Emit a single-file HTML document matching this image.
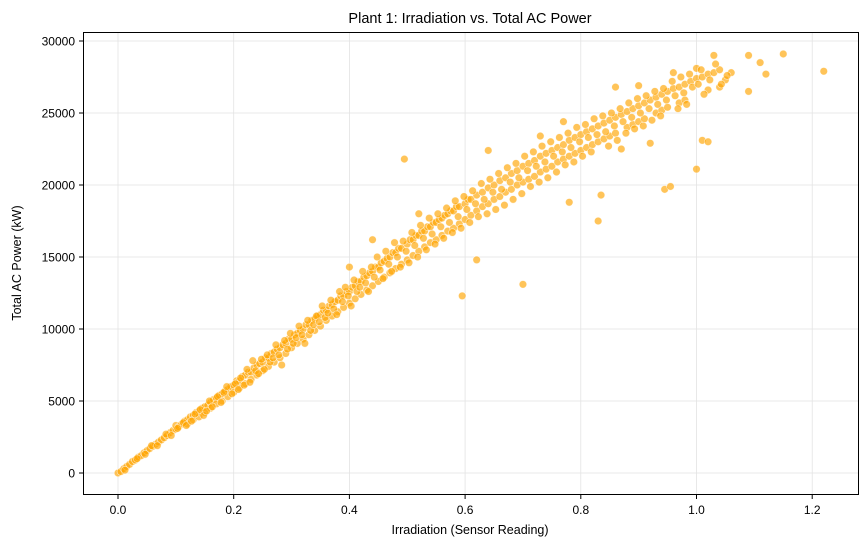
<!DOCTYPE html>
<html><head><meta charset="utf-8"><style>
body{margin:0;background:#fff;}
svg text{font-family:"Liberation Sans","DejaVu Sans",sans-serif;fill:#000;}
</style></head><body>
<svg id="chart" width="868" height="547" xmlns="http://www.w3.org/2000/svg">
<rect width="868" height="547" fill="#fff"/>
<text x="470" y="23" font-size="14.5" text-anchor="middle">Plant 1: Irradiation vs. Total AC Power</text>
<g id="grid"></g>
<g id="points"></g>
<rect x="83.5" y="32.5" width="775" height="462" fill="none" stroke="#000" stroke-width="1"/>
<g id="axes"></g>
<text x="470" y="534" font-size="12.5" text-anchor="middle">Irradiation (Sensor Reading)</text>
<text transform="translate(21,263) rotate(-90)" font-size="12.5" text-anchor="middle">Total AC Power (kW)</text>
</svg>
<script>
const xTicks=[0,0.2,0.4,0.6,0.8,1.0,1.2];
const xTickLabels=["0.0","0.2","0.4","0.6","0.8","1.0","1.2"];
const yTicks=[0,5000,10000,15000,20000,25000,30000];
const yTickLabels=["0","5000","10000","15000","20000","25000","30000"];
const irradiationA=[0,0.005,0.01,0.015,0.02,0.025,0.03,0.035,0.04,0.045,0.05,0.055,0.06,0.065,0.07,0.075,0.08,0.085,0.09,0.095,0.10,0.10,0.105,0.11,0.115,0.12,0.12,0.125,0.13,0.13,0.135,0.14,0.14,0.145,0.15,0.15,0.155,0.16,0.16,0.165,0.17,0.17,0.175,0.18,0.18,0.185,0.19,0.19,0.195,0.20,0.20,0.205,0.21,0.21,0.215,0.22,0.22,0.225,0.23,0.23,0.235,0.24,0.24,0.245,0.25,0.25,0.255,0.26,0.26,0.265,0.27,0.27,0.275,0.28,0.28,0.285,0.29,0.29,0.295,0.30,0.30,0.305,0.31,0.31,0.315,0.32,0.32,0.325,0.33,0.33,0.335,0.34,0.34,0.345,0.35,0.35,0.355,0.36,0.36,0.365,0.37,0.37,0.375,0.38,0.38,0.385,0.39,0.39,0.395,0.40,0.40,0.40,0.405,0.41,0.41,0.415,0.42,0.42,0.425,0.43,0.43,0.435,0.44,0.44,0.44,0.445,0.45,0.45,0.455,0.46,0.46,0.465,0.47,0.47,0.475,0.48,0.48,0.485,0.49,0.49,0.495,0.50,0.50,0.505,0.51,0.51,0.515,0.52,0.52,0.52,0.525,0.53,0.53,0.535,0.54,0.54,0.545,0.55,0.55,0.555,0.56,0.56,0.565,0.57,0.57,0.575,0.58,0.58,0.585,0.59,0.59,0.595,0.60,0.60,0.605,0.61,0.61,0.62,0.62,0.62,0.63,0.63,0.64,0.64,0.64,0.65,0.65,0.66,0.66,0.67,0.67,0.68,0.68,0.69,0.69,0.70,0.70,0.70,0.71,0.71,0.72,0.72,0.73,0.73,0.73,0.74,0.74,0.75,0.75,0.76,0.76,0.77,0.77,0.77,0.78,0.78,0.78,0.79,0.79,0.80,0.80,0.81,0.81,0.82,0.82,0.83,0.83,0.83,0.835,0.84,0.84,0.85,0.85,0.86,0.86,0.86,0.87,0.87,0.88,0.88,0.89,0.89,0.90,0.90,0.90,0.91,0.91,0.92,0.92,0.93,0.93,0.94,0.94,0.945,0.955,0.95,0.95,0.96,0.96,0.97,0.97,0.98,0.98,0.99,1.00,1.00,1.00,1.01,1.01,1.02,1.02,1.02,1.03,1.03,1.04,1.04,1.05,1.06,1.09,1.09,1.11,1.12,1.15,1.22];
const acPowerA=[0,100,300,450,600,800,900,1100,1200,1400,1550,1700,1850,2000,2150,2300,2450,2600,2800,2950,3050,3300,3200,3400,3600,3700,3400,3900,4000,3700,4200,4300,3900,4500,4600,4200,4700,4900,4500,5100,5200,4800,5400,5500,5000,5700,5800,5300,6000,6100,5600,6400,6400,5900,6700,6800,6200,7000,7000,6500,7300,7500,6800,7600,7700,7100,8000,8000,7400,8300,8400,7700,8600,8700,8000,8900,9000,8300,9300,9300,8700,9600,9700,9000,9900,10000,9300,10300,10300,9600,10600,10700,9900,10900,11000,10200,11300,11300,10600,11600,11700,10900,11900,12000,11200,12300,12300,11500,12600,12600,11800,14300,12900,13000,12100,13300,13300,12400,13600,13700,12700,13900,14000,13000,16200,14300,14300,13300,14600,14700,13600,14900,15000,13900,15300,15300,14200,15600,15600,14500,21800,15900,14800,16200,16200,15100,16500,16500,15400,18000,16800,16800,15700,17100,17100,16000,17400,17400,16200,17600,17700,16500,17900,18000,16800,18200,18200,17000,18500,18500,17300,12300,18700,17600,19000,19000,17900,14800,19300,18200,19500,18500,19800,18700,22400,20000,19000,20300,19200,20500,19500,20800,19700,21000,20000,21300,13100,20200,21500,20400,21700,20600,22000,20900,23400,22200,21100,22400,21300,22600,21600,22800,21800,24400,23100,22000,18800,23300,22200,23500,22400,23700,22600,23900,22800,24100,23000,17500,19300,24300,23200,24500,23400,24700,23600,26800,24900,22500,25100,24000,25300,24200,25500,24400,26900,25700,24600,25900,22900,26100,25000,26300,25200,19700,19900,26500,25400,26700,27800,26800,25700,27000,25900,27200,27400,21100,28100,27500,23100,27700,26600,23000,27800,29000,26800,28000,27300,27800,26500,29000,28500,27700,29100,27900];
const irradiationB=[0.012,0.033,0.047,0.058,0.068,0.083,0.092,0.103,0.113,0.118,0.127,0.133,0.142,0.148,0.153,0.158,0.163,0.172,0.178,0.183,0.188,0.197,0.203,0.208,0.212,0.218,0.223,0.228,0.233,0.238,0.243,0.248,0.253,0.258,0.263,0.268,0.273,0.278,0.283,0.288,0.293,0.298,0.303,0.308,0.313,0.318,0.323,0.328,0.333,0.338,0.343,0.348,0.353,0.358,0.363,0.368,0.373,0.378,0.383,0.388,0.393,0.398,0.403,0.408,0.413,0.418,0.423,0.428,0.433,0.438,0.443,0.448,0.453,0.458,0.463,0.468,0.473,0.478,0.483,0.488,0.493,0.498,0.503,0.508,0.513,0.518,0.523,0.528,0.533,0.538,0.543,0.548,0.553,0.558,0.563,0.568,0.573,0.578,0.583,0.588,0.593,0.598,0.603,0.608,0.613,0.618,0.623,0.628,0.633,0.638,0.643,0.648,0.653,0.658,0.663,0.668,0.673,0.678,0.683,0.688,0.693,0.698,0.703,0.708,0.713,0.718,0.723,0.728,0.733,0.738,0.743,0.748,0.753,0.758,0.763,0.768,0.773,0.778,0.783,0.788,0.793,0.798,0.803,0.808,0.813,0.818,0.823,0.828,0.838,0.843,0.848,0.853,0.858,0.863,0.868,0.873,0.878,0.883,0.888,0.893,0.898,0.903,0.908,0.913,0.918,0.923,0.928,0.933,0.938,0.943,0.948,0.958,0.963,0.968,0.973,0.978,0.983,0.988,0.993,1.003,1.008,1.013,1.023,1.033,1.043,1.053];
const acPowerB=[200,1000,1300,1900,1900,2700,2600,3100,3500,3300,3600,4100,4400,4000,4300,5000,4600,5300,4900,5600,6000,5500,6200,5800,6600,6100,7200,6300,7800,7100,6900,7900,7200,8200,7700,8000,8900,8200,7500,9200,8600,9700,9000,9400,10200,9600,9000,10600,9900,10300,10900,10500,11600,10800,11100,12000,11400,11000,12600,11900,12900,12300,11600,13400,12600,12900,14000,13200,12600,14300,13600,15000,14100,13500,15400,14500,14000,16000,15000,14300,16100,15400,14600,16700,15800,15000,17200,16300,15500,17700,16600,15900,18000,17100,16300,18400,17400,16700,18900,17800,17000,19200,18300,17400,19600,18700,17800,20100,19000,18000,20400,19500,18300,20800,19700,18600,21200,20200,19000,21500,20500,19400,22000,21000,19900,22300,21300,20200,22700,21600,20500,23000,22000,20900,23300,22300,21400,23600,22600,21600,24000,23000,22000,24200,23300,22300,24600,23500,24800,23700,22700,25000,24100,23100,25300,24400,23600,25700,24700,23900,26000,25000,24100,26200,25300,24500,26500,25600,24800,26700,25900,27200,26200,25300,27500,26400,25600,27700,26800,27000,28000,26300,27300,28400,27000,27600];
const irradiation=irradiationA.concat(irradiationB);
const acPower=acPowerA.concat(acPowerB);
const NS='http://www.w3.org/2000/svg';
function xs(v){return 118+v*578.5;}
function ys(v){return 473-v*72/5000;}
const grid=document.getElementById('grid'),axes=document.getElementById('axes'),pts=document.getElementById('points');
xTicks.forEach((t,i)=>{
 const g=document.createElementNS(NS,'line');
 
 
 g.setAttribute('x1',xs(t));g.setAttribute('x2',xs(t));g.setAttribute('y1',32);g.setAttribute('y2',494);
 g.setAttribute('stroke','#e3e3e3');g.setAttribute('stroke-width','0.8');grid.appendChild(g);
 const tk=document.createElementNS(NS,'line');
 
 
 tk.setAttribute('x1',xs(t));tk.setAttribute('x2',xs(t));tk.setAttribute('y1',494.5);tk.setAttribute('y2',499);
 tk.setAttribute('stroke','#000');axes.appendChild(tk);
 const tx=document.createElementNS(NS,'text');
 
 
 tx.setAttribute('x',xs(t));tx.setAttribute('y',514);tx.setAttribute('font-size','12');tx.setAttribute('text-anchor','middle');
 tx.textContent=xTickLabels[i];axes.appendChild(tx);
});
yTicks.forEach((t,i)=>{
 const g=document.createElementNS(NS,'line');
 
 
 g.setAttribute('x1',83);g.setAttribute('x2',858);g.setAttribute('y1',ys(t));g.setAttribute('y2',ys(t));
 g.setAttribute('stroke','#e3e3e3');g.setAttribute('stroke-width','0.8');grid.appendChild(g);
 const tk=document.createElementNS(NS,'line');
 
 
 tk.setAttribute('x1',79);tk.setAttribute('x2',83.5);tk.setAttribute('y1',ys(t));tk.setAttribute('y2',ys(t));
 tk.setAttribute('stroke','#000');axes.appendChild(tk);
 const tx=document.createElementNS(NS,'text');
 
 
 tx.setAttribute('x',75);tx.setAttribute('y',ys(t)+4.5);tx.setAttribute('font-size','12');tx.setAttribute('text-anchor','end');
 tx.textContent=yTickLabels[i];axes.appendChild(tx);
});
irradiation.forEach((v,i)=>{
 const c=document.createElementNS(NS,'circle');
 
 
 c.setAttribute('cx',xs(v));c.setAttribute('cy',ys(acPower[i]));c.setAttribute('r','3.8');
 c.setAttribute('fill','rgba(255,165,0,0.65)');c.setAttribute('stroke','rgba(255,255,255,0.7)');c.setAttribute('stroke-width','0.6');
 pts.appendChild(c);
});
</script>
</body></html>
